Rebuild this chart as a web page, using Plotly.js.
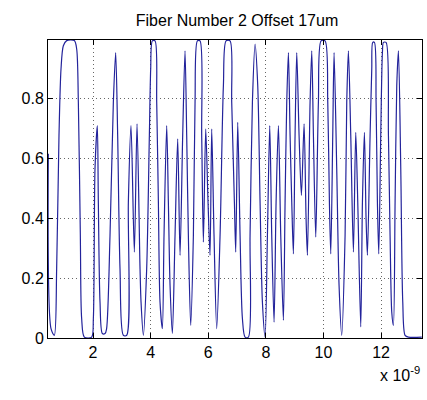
<!DOCTYPE html>
<html>
<head>
<meta charset="utf-8">
<script src="https://cdn.plot.ly/plotly-3.0.1.min.js"></script>
<style>html,body{margin:0;padding:0;background:#fff;}#chart{width:427px;height:400px;}</style>
</head>
<body>
<div id="chart"></div>
<script>
// time in units of 1e-9 s
const timeNs = [
  0.449, 0.542, 0.657, 0.738, 0.819, 0.889, 0.970, 1.086, 1.352, 1.433, 1.491, 1.560, 1.606, 1.699, 1.954,
  2.012, 2.069, 2.150, 2.185, 2.243, 2.324, 2.417, 2.470, 2.590, 2.706, 2.787, 2.856, 2.937, 3.053, 3.169,
  3.227, 3.319, 3.435, 3.528, 3.632, 3.667, 3.748, 3.863, 3.956, 4.002, 4.060, 4.153, 4.211, 4.269, 4.326,
  4.407, 4.465, 4.558, 4.616, 4.674, 4.755, 4.847, 4.940, 5.021, 5.113, 5.194, 5.252, 5.310, 5.391, 5.484,
  5.542, 5.623, 5.715, 5.773, 5.831, 5.912, 5.993, 6.062, 6.120, 6.201, 6.294, 6.410, 6.526, 6.618, 6.757,
  6.815, 6.908, 6.954, 7.023, 7.105, 7.186, 7.278, 7.394, 7.452, 7.533, 7.625, 7.718, 7.799, 7.880, 7.973,
  8.054, 8.135, 8.204, 8.285, 8.355, 8.436, 8.517, 8.609, 8.667, 8.725, 8.783, 8.841, 8.899, 8.956, 9.014,
  9.072, 9.153, 9.234, 9.327, 9.396, 9.443, 9.535, 9.593, 9.651, 9.732, 9.824, 9.917, 10.056, 10.149, 10.206,
  10.253, 10.322, 10.368, 10.460, 10.541, 10.634, 10.750, 10.808, 10.866, 10.947, 11.039, 11.120, 11.190, 11.294, 11.352,
  11.421, 11.479, 11.525, 11.618, 11.676, 11.710, 11.768, 11.826, 11.872, 11.919, 11.988, 12.046, 12.081, 12.173, 12.255,
  12.312, 12.370, 12.428, 12.486, 12.544, 12.602, 12.683, 12.752, 12.833, 12.949, 13.412
];
const intensity = [
  0.615, 0.031, 0.009, 0.231, 0.676, 0.898, 0.976, 0.993, 0.993, 0.965, 0.787, 0.342, 0.065, 0.003, 0.003,
  0.065, 0.565, 0.709, 0.453, 0.120, 0.015, 0.015, 0.030, 0.342, 0.787, 0.953, 0.676, 0.231, 0.009, 0.009,
  0.453, 0.709, 0.287, 0.715, 0.231, 0.120, 0.009, 0.231, 0.676, 0.898, 0.992, 0.992, 0.787, 0.453, 0.120,
  0.031, 0.342, 0.709, 0.453, 0.176, 0.015, 0.342, 0.665, 0.276, 0.676, 0.959, 0.676, 0.342, 0.042, 0.342,
  0.787, 0.992, 0.992, 0.676, 0.320, 0.698, 0.453, 0.276, 0.698, 0.342, 0.031, 0.342, 0.842, 0.992, 0.992,
  0.787, 0.453, 0.287, 0.720, 0.342, 0.065, 0.003, 0.003, 0.342, 0.787, 0.981, 0.842, 0.453, 0.120, 0.003,
  0.342, 0.709, 0.342, 0.053, 0.453, 0.709, 0.342, 0.059, 0.453, 0.787, 0.953, 0.676, 0.453, 0.281, 0.676,
  0.953, 0.676, 0.476, 0.715, 0.398, 0.276, 0.787, 0.959, 0.676, 0.337, 0.787, 0.992, 0.992, 0.787, 0.453,
  0.281, 0.676, 0.953, 0.565, 0.176, 0.009, 0.342, 0.787, 0.959, 0.676, 0.287, 0.687, 0.453, 0.037, 0.453,
  0.687, 0.398, 0.276, 0.676, 0.898, 0.987, 0.987, 0.787, 0.453, 0.281, 0.676, 0.953, 0.987, 0.987, 0.676,
  0.342, 0.087, 0.042, 0.453, 0.842, 0.959, 0.565, 0.120, 0.009, 0.003, 0.003
];
const xTicks = [2, 4, 6, 8, 10, 12];
const yTicks = [0, 0.2, 0.4, 0.6, 0.8];

const trace = {
  x: timeNs, y: intensity, type: 'scatter', mode: 'lines',
  line: {color: 'rgb(35,35,155)', width: 1.2, shape: 'spline', smoothing: 0.8},
  hoverinfo: 'skip'
};
const font = {family: 'Liberation Sans, Arial, sans-serif', size: 16, color: '#000'};
const layout = {
  width: 427, height: 400,
  margin: {l: 48, r: 5, t: 40, b: 62},
  paper_bgcolor: '#fff', plot_bgcolor: '#fff',
  showlegend: false,
  font: font,
  title: {text: 'Fiber Number 2 Offset 17um', font: {family: font.family, size: 16, color: '#000'},
          x: 0.555, xanchor: 'center', y: 0.95, yanchor: 'middle'},
  xaxis: {range: [0.4375, 13.42], tickvals: xTicks, ticktext: xTicks.map(String),
          ticks: 'inside', ticklen: 5, tickcolor: '#000', showline: true, linecolor: '#000', linewidth: 1,
          mirror: 'ticks', showgrid: true, gridcolor: '#666', griddash: '1px,3px', gridwidth: 1,
          zeroline: false, tickfont: font},
  yaxis: {range: [0, 0.995], tickvals: yTicks, ticktext: ['0', '0.2', '0.4', '0.6', '0.8'],
          ticks: 'inside', ticklen: 5, tickcolor: '#000', showline: true, linecolor: '#000', linewidth: 1,
          mirror: 'ticks', showgrid: true, gridcolor: '#666', griddash: '1px,3px', gridwidth: 1,
          zeroline: false, tickfont: font},
  annotations: [{text: 'x 10<sup>-9</sup>', xref: 'paper', yref: 'paper', x: 1.0, y: -0.08,
                 xanchor: 'right', yanchor: 'top', showarrow: false, font: font}]
};
Plotly.newPlot('chart', [trace], layout, {displayModeBar: false, staticPlot: true});
</script>
</body>
</html>
